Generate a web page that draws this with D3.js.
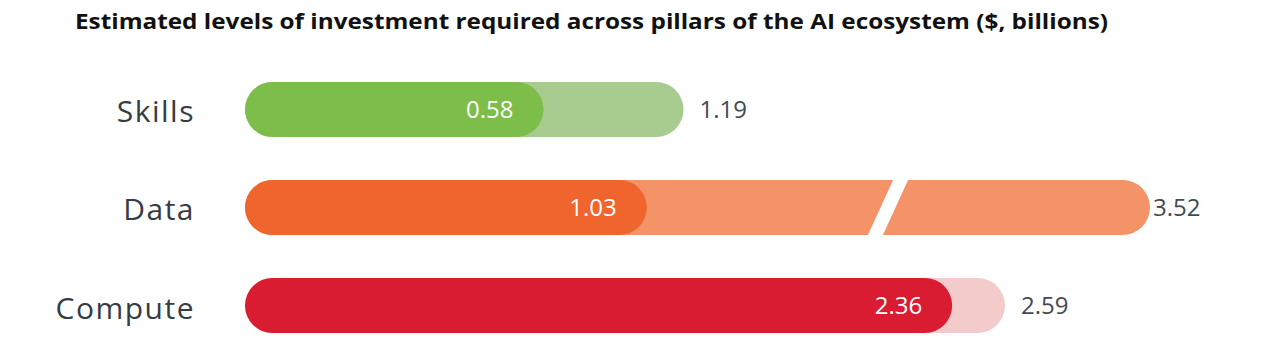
<!DOCTYPE html>
<html>
<head>
<meta charset="utf-8">
<script src="https://cdn.jsdelivr.net/npm/d3@7"></script>
<style>
  body { margin: 0; background: #fff; }
  svg { display: block; }
</style>
</head>
<body>
<div id="chart"></div>
<script>
// datos
var pillars = ["Skills", "Data", "Compute"];
var lowValues = [0.58, 1.03, 2.36];
var highValues = [1.19, 3.52, 2.59];
var darkColors = ["#7dbd4a", "#f0652d", "#da1c33"];
var lightColors = ["#a8cb8f", "#f49268", "#f4cbcb"];
var breakValue = 2.05; // where the Data bar is cut

var width = 1280;
var height = 363;
var margin = { left: 245 };

var svg = d3.select("#chart")
    .append("svg")
    .attr("width", width)
    .attr("height", height);

// title
svg.append("text")
    .attr("x", 75)
    .attr("y", 28.5)
    .attr("font-family", "Open Sans")
    .attr("font-weight", 700)
    .attr("font-size", 21)
    .attr("fill", "#111")
    .attr("textLength", 1033)
    .attr("lengthAdjust", "spacingAndGlyphs")
    .text("Estimated levels of investment required across pillars of the AI ecosystem ($, billions)");

// not drawn to scale in the original, so a compressed piecewise scale
var x = d3.scaleLinear()
    .domain([-0.72, 2.59, 3.52])
    .range([margin.left, margin.left + 760, margin.left + 905]);

var y = d3.scaleBand()
    .domain(pillars)
    .range([82, 333])
    .paddingInner(0.439)
    .paddingOuter(0);

var bh = y.bandwidth();
var x0 = x(x.domain()[0]);

var rows = svg.selectAll("g.row")
    .data(pillars)
    .enter().append("g")
    .attr("class", "row")
    .attr("transform", function(d) { return "translate(0," + y(d) + ")"; });

// light bar (total)
rows.append("rect")
    .attr("x", x0)
    .attr("y", 0)
    .attr("width", function(d, i) { return x(highValues[i]) - x0; })
    .attr("height", bh)
    .attr("rx", bh / 2)
    .attr("fill", function(d, i) { return lightColors[i]; });

// dark bar
rows.append("rect")
    .attr("x", x0)
    .attr("y", 0)
    .attr("width", function(d, i) { return x(lowValues[i]) - x0; })
    .attr("height", bh)
    .attr("rx", bh / 2)
    .attr("fill", function(d, i) { return darkColors[i]; });

// break slash on Data
var bx = x(breakValue);
svg.append("path")
    .attr("transform", "translate(0," + y("Data") + ")")
    .attr("d", "M" + (bx + 13) + ",-2 L" + (bx + 28) + ",-2 L" + (bx + 1) + "," + (bh + 2) + " L" + (bx - 14) + "," + (bh + 2) + "Z")
    .attr("fill", "#fff");

// category labels
rows.append("text")
    .attr("x", 195)
    .attr("y", bh / 2 + 13)
    .attr("text-anchor", "end")
    .attr("font-family", "Open Sans")
    .attr("font-size", 30)
    .attr("letter-spacing", 1.5)
    .attr("fill", "#363b45")
    .text(function(d) { return d; });

// inner values
rows.append("text")
    .attr("x", function(d, i) { return x(lowValues[i]) - 30; })
    .attr("y", bh / 2 + 8.5)
    .attr("text-anchor", "end")
    .attr("font-family", "Open Sans")
    .attr("font-size", 24)
    .attr("fill", "#fff")
    .text(function(d, i) { return lowValues[i].toFixed(2); });

// outer values
rows.append("text")
    .attr("x", function(d, i) { return x(highValues[i]) + (i == 1 ? 3 : 16); })
    .attr("y", bh / 2 + 8.5)
    .attr("font-family", "Open Sans")
    .attr("font-size", 24)
    .attr("fill", "#444a52")
    .text(function(d, i) { return highValues[i].toFixed(2); });
</script>
</body>
</html>
